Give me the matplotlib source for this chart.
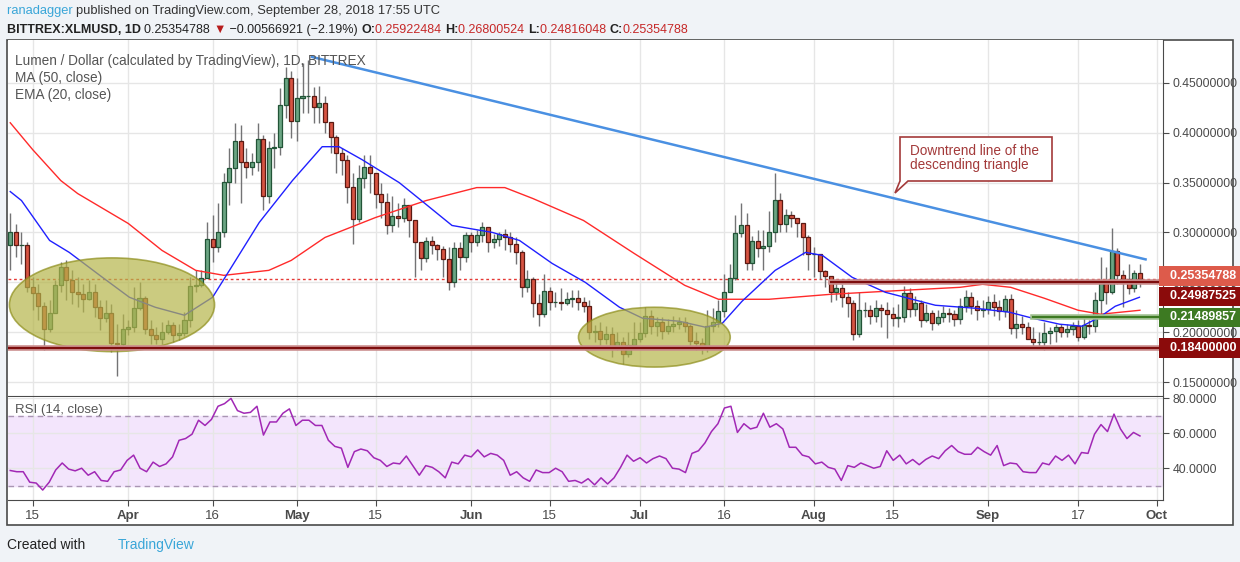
import matplotlib
matplotlib.use("Agg")
import matplotlib.pyplot as plt
import numpy as np
from matplotlib.patches import Ellipse, Rectangle, Polygon
from matplotlib.transforms import blended_transform_factory

plt.rcParams['font.family'] = ['Liberation Sans', 'DejaVu Sans']

# daily closes from Mar 11 to Sep 28, 2018 (XLM/USD, Bittrex)
closes = [0.300,0.287,0.287,0.245,0.239,0.226,0.203,0.219,0.247,0.265,
          0.252,0.240,0.238,0.233,0.240,0.225,0.214,0.219,0.189,0.188,
          0.203,0.205,0.224,0.234,0.203,0.197,0.193,0.200,0.207,0.197,
          0.199,0.212,0.246,0.247,0.254,0.293,0.285,0.300,0.351,0.365,
          0.392,0.371,0.366,0.371,0.394,0.337,0.385,0.386,0.428,0.455,
          0.412,0.435,0.437,0.437,0.426,0.430,0.411,0.396,0.380,0.373,
          0.346,0.313,0.355,0.366,0.360,0.339,0.331,0.307,0.317,0.314,
          0.328,0.312,0.290,0.274,0.291,0.287,0.283,0.273,0.250,0.284,
          0.275,0.297,0.290,0.297,0.305,0.290,0.293,0.298,0.295,0.288,
          0.280,0.245,0.253,0.229,0.218,0.241,0.230,0.230,0.229,0.233,
          0.234,0.230,0.226,0.200,0.201,0.193,0.198,0.184,0.190,0.178,
          0.187,0.193,0.199,0.216,0.206,0.210,0.201,0.206,0.208,0.210,
          0.206,0.191,0.189,0.184,0.206,0.210,0.221,0.240,0.254,0.299,
          0.307,0.269,0.291,0.284,0.286,0.300,0.333,0.308,0.318,0.315,
          0.309,0.295,0.278,0.278,0.261,0.256,0.240,0.244,0.235,0.229,
          0.198,0.222,0.222,0.216,0.224,0.222,0.218,0.214,0.215,0.239,
          0.223,0.229,0.212,0.219,0.209,0.215,0.219,0.218,0.213,0.226,
          0.235,0.226,0.222,0.223,0.230,0.225,0.221,0.233,0.204,0.208,
          0.205,0.193,0.190,0.190,0.199,0.201,0.205,0.200,0.203,0.206,
          0.195,0.207,0.206,0.232,0.249,0.240,0.281,0.257,0.253,0.244,
          0.2592,0.2535]
first_open = 0.287

highs = [0.320,0.308,0.300,0.290,0.255,0.248,0.230,0.232,0.252,0.270,
         0.272,0.262,0.255,0.248,0.252,0.248,0.232,0.232,0.228,0.208,
         0.218,0.212,0.245,0.250,0.236,0.212,0.205,0.210,0.212,0.210,
         0.208,0.220,0.255,0.262,0.262,0.310,0.318,0.330,0.360,0.385,
         0.410,0.408,0.385,0.380,0.410,0.398,0.392,0.400,0.445,0.466,
         0.462,0.455,0.470,0.473,0.446,0.447,0.437,0.410,0.398,0.385,
         0.378,0.360,0.368,0.378,0.378,0.360,0.350,0.340,0.337,0.330,
         0.335,0.328,0.305,0.290,0.295,0.296,0.288,0.286,0.285,0.290,
         0.290,0.300,0.300,0.302,0.310,0.305,0.298,0.300,0.303,0.300,
         0.295,0.282,0.262,0.255,0.238,0.258,0.245,0.240,0.244,0.240,
         0.242,0.242,0.235,0.232,0.207,0.210,0.206,0.205,0.200,0.195,
         0.200,0.210,0.210,0.225,0.222,0.215,0.215,0.213,0.216,0.215,
         0.215,0.208,0.200,0.194,0.222,0.224,0.232,0.258,0.268,0.318,
         0.330,0.320,0.296,0.302,0.302,0.322,0.360,0.340,0.324,0.322,
         0.315,0.305,0.297,0.285,0.268,0.262,0.254,0.252,0.248,0.240,
         0.232,0.240,0.230,0.227,0.232,0.228,0.230,0.225,0.228,0.246,
         0.244,0.236,0.232,0.228,0.222,0.222,0.226,0.224,0.222,0.234,
         0.242,0.240,0.232,0.232,0.236,0.238,0.232,0.237,0.238,0.222,
         0.216,0.210,0.205,0.200,0.210,0.205,0.208,0.208,0.208,0.210,
         0.212,0.214,0.212,0.240,0.275,0.265,0.304,0.284,0.262,0.268,
         0.262,0.268]

lows = [0.262,0.275,0.268,0.240,0.222,0.212,0.182,0.200,0.235,0.240,
        0.232,0.228,0.225,0.220,0.232,0.215,0.202,0.210,0.180,0.156,
        0.185,0.197,0.200,0.222,0.198,0.188,0.188,0.188,0.198,0.190,
        0.192,0.196,0.205,0.240,0.245,0.255,0.270,0.280,0.295,0.328,
        0.350,0.330,0.355,0.358,0.362,0.323,0.330,0.365,0.378,0.415,
        0.395,0.392,0.420,0.420,0.410,0.410,0.400,0.380,0.360,0.358,
        0.330,0.288,0.310,0.345,0.340,0.325,0.315,0.298,0.300,0.305,
        0.310,0.295,0.255,0.262,0.270,0.278,0.272,0.255,0.242,0.245,
        0.262,0.270,0.280,0.286,0.290,0.280,0.284,0.286,0.282,0.280,
        0.268,0.235,0.240,0.215,0.206,0.215,0.222,0.225,0.222,0.227,
        0.225,0.222,0.220,0.193,0.190,0.183,0.188,0.175,0.182,0.168,
        0.175,0.183,0.190,0.195,0.198,0.196,0.193,0.198,0.200,0.203,
        0.200,0.186,0.182,0.178,0.180,0.200,0.205,0.215,0.240,0.252,
        0.295,0.262,0.262,0.275,0.262,0.280,0.290,0.300,0.300,0.305,
        0.295,0.277,0.262,0.255,0.253,0.245,0.230,0.232,0.225,0.215,
        0.192,0.195,0.215,0.208,0.210,0.205,0.194,0.206,0.205,0.210,
        0.215,0.216,0.205,0.210,0.202,0.207,0.210,0.210,0.206,0.208,
        0.220,0.218,0.212,0.215,0.218,0.216,0.212,0.215,0.198,0.194,
        0.198,0.196,0.186,0.183,0.182,0.188,0.190,0.195,0.195,0.197,
        0.191,0.193,0.198,0.200,0.218,0.228,0.238,0.248,0.225,0.238,
        0.240,0.245]

# moving averages (day index, value)
ma50_day = [0, 4, 9, 12, 21, 27, 33, 38, 46, 50, 56, 65, 74, 83, 88, 93, 102, 111,
            120, 126, 135, 146, 159, 169, 173, 178, 184, 190, 194, 201]
ma50_val = [0.410, 0.383, 0.352, 0.339, 0.309, 0.282, 0.262, 0.257, 0.262, 0.272,
            0.295, 0.315, 0.332, 0.345, 0.345, 0.334, 0.312, 0.279, 0.247, 0.233,
            0.233, 0.238, 0.242, 0.245, 0.248, 0.245, 0.234, 0.222, 0.218, 0.222]
ema20_day = [0, 2, 7, 10.5, 16.4, 21.2, 25.8, 31, 36, 39, 44.3, 50.2, 55.5, 58.5, 62.6,
             69.2, 73.8, 78.6, 85.8, 90.6, 96.4, 102.3, 108.4, 112.5, 119, 123.7, 126.7,
             130.2, 136.1, 141.5, 144.5, 149.8, 155.7, 164.6, 171.7, 177.8, 181.9,
             186.7, 190.7, 193.8, 196.6, 200.9]
ema20_val = [0.341, 0.332, 0.292, 0.280, 0.255, 0.235, 0.225, 0.217, 0.235, 0.262,
             0.310, 0.352, 0.386, 0.386, 0.373, 0.350, 0.329, 0.307, 0.300, 0.292,
             0.269, 0.250, 0.225, 0.214, 0.211, 0.205, 0.209, 0.231, 0.262, 0.280,
             0.277, 0.255, 0.240, 0.227, 0.224, 0.220, 0.214, 0.208, 0.206, 0.215,
             0.226, 0.235]

rsi = [38.7, 38, 38, 32, 31.5, 27.5, 32, 39, 43, 39.5, 38.5, 40, 36, 38, 33, 32.5, 38, 39,
       44.5, 47.5, 40, 38, 43.5, 41, 42.5, 46.5, 56, 57, 59.5, 67.5, 64.5, 68, 75.5, 77, 80,
       73, 71.5, 72, 75.5, 59, 66.5, 66.5, 71.5, 74, 64.5, 67.5, 67.5, 64.5, 64.5, 56, 52.5,
       51.5, 40.5, 49.5, 51, 50, 46, 44.5, 41, 43, 42.5, 47, 41.5, 36, 41.5, 40.5, 38, 34.5,
       43.5, 42.5, 47.5, 46.5, 50.5, 46.5, 48.5, 47.5, 44.5, 36, 38, 34.5, 32.5, 39, 37.5,
       37.5, 40, 38, 32.5, 33, 31.5, 34, 30.5, 34.5, 31, 34.5, 40.5, 47.5, 44, 46, 43, 45.5,
       47, 45.5, 40, 39.5, 37.5, 48.5, 50, 54.5, 61, 65.5, 74.5, 75.5, 60.5, 65.5, 62.5, 63.5,
       71.5, 63.5, 65.5, 62.5, 52, 52, 47.5, 46.5, 42.5, 43.5, 40.5, 39.5, 33, 41.5, 40.5, 43,
       41.5, 40, 41, 50, 44.5, 47.5, 42.5, 45, 42, 45, 47, 45.5, 50, 53, 49.5, 48, 48, 52,
       49.5, 47.5, 53, 41.5, 43, 42.5, 38, 37.5, 37.5, 43, 42, 47, 44.5, 47.5, 42.5, 49,
       48.5, 59.5, 65, 61, 71, 62.5, 57, 60.5, 58.5]

price_ticks = [0.15, 0.20, 0.25, 0.30, 0.35, 0.40, 0.45]
date_ticks = [4, 21, 36, 51, 65, 82, 96, 112, 127, 143, 157, 174, 190, 204]
date_labels = ["15", "Apr", "16", "May", "15", "Jun", "15", "Jul", "16", "Aug", "15", "Sep", "17", "Oct"]
month_labels = ["Apr", "May", "Jun", "Jul", "Aug", "Sep", "Oct"]

support = 0.184
resistance = 0.24987525
mid_level = 0.21489857
last_price = 0.25354788
trend_days = [53.7, 202]
trend_vals = [0.476, 0.273]

W, H = 1240, 562
fig = plt.figure(figsize=(W / 100, H / 100), dpi=100)
fig.patch.set_facecolor("#f0f3f7")

def fx(px):
    return px / W

def fy(py):
    return 1 - py / H

ax = fig.add_axes([fx(8), fy(396), fx(1163 - 8), (396 - 40) / H])
ax2 = fig.add_axes([fx(8), fy(500), fx(1163 - 8), (500 - 397) / H])

# outer frame
fig.patches.append(Rectangle((fx(7), fy(525)), fx(1233 - 7), (525 - 40) / H,
                             transform=fig.transFigure, fill=True, facecolor="white",
                             edgecolor="#4a4a4a", lw=1.2, zorder=-5))

grid_c = "#e6e6e6"
for a in (ax, ax2):
    a.set_facecolor("white")
    a.set_xlim(-0.4, 205.1)
    a.set_xticks(date_ticks)
    a.grid(True, color=grid_c, lw=1)
    a.set_axisbelow(True)
    a.yaxis.tick_right()
    a.tick_params(axis="y", length=4, colors="#4a4a4a", labelsize=8.8, pad=3)
    for s in a.spines.values():
        s.set_color("#4a4a4a")
    a.spines["top"].set_visible(False)

ax.spines["left"].set_visible(False)
ax2.spines["left"].set_visible(False)
ax.tick_params(axis="x", length=0, labelbottom=False)
ax2.tick_params(axis="x", length=4, colors="#4a4a4a", labelsize=9.5)
ax2.set_xticklabels(date_labels)
for lab in ax2.get_xticklabels():
    lab.set_color("#4a4a4a")
    if lab.get_text() in month_labels:
        lab.set_fontweight("bold")

ax.set_ylim(0.136, 0.493)
ax.set_yticks(price_ticks)
ax.set_yticklabels(["%.8f" % v for v in price_ticks])

# candles
c = np.array(closes)
o = np.concatenate([[first_open], c[:-1]])
hi = np.maximum(np.array(highs), np.maximum(o, c))
lo = np.minimum(np.array(lows), np.minimum(o, c))
days = np.arange(len(c))
up = c >= o
ax.vlines(days, lo, hi, color="#737375", lw=1, zorder=3)
ax.bar(days[up], c[up] - o[up], bottom=o[up], width=0.72,
       color="#6ba583", edgecolor="#225437", lw=0.9, zorder=4)
ax.bar(days[~up], o[~up] - c[~up], bottom=c[~up], width=0.72,
       color="#d75442", edgecolor="#5b1a13", lw=0.9, zorder=4)

ax.plot(ma50_day, ma50_val, color="#ff2a2a", lw=1, zorder=5)
ax.plot(ema20_day, ema20_val, color="#2020ff", lw=1, zorder=5)

# ellipses
ax.add_patch(Ellipse((18.1, 0.2275), 36.5, 0.094, facecolor="#b5b54a", alpha=0.7,
                     edgecolor="#8d8d1a", lw=1.2, zorder=6))
ax.add_patch(Ellipse((114.6, 0.195), 27, 0.060, facecolor="#b5b54a", alpha=0.7,
                     edgecolor="#8d8d1a", lw=1.2, zorder=6))

# levels
ax.axhline(last_price, color="#e53935", ls=(0, (2, 2)), lw=1, zorder=2)
ax.axhline(support, color="#c98a8a", lw=4, zorder=6)
ax.axhline(support, color="#7d0d0d", lw=1.5, zorder=6)
ax.plot([146, 205.1], [resistance] * 2, color="#c98a8a", lw=4, zorder=6)
ax.plot([146, 205.1], [resistance] * 2, color="#7d0d0d", lw=1.5, zorder=6)
ax.plot([182, 205.1], [mid_level] * 2, color="#9fbf8f", lw=4, zorder=6)
ax.plot([182, 205.1], [mid_level] * 2, color="#3d7a22", lw=1.5, zorder=6)
ax.plot(trend_days, trend_vals, color="#4a90e2", lw=1.8, zorder=7)

# right-hand price boxes (labels pushed apart as on the chart)
tr = blended_transform_factory(ax.transAxes, ax.transData)
for val, ypos, col in [(last_price, last_price + 0.0030, "#dd5b4b"),
                       (resistance, resistance - 0.0140, "#8b0b0b"),
                       (mid_level, mid_level, "#3d7a22"),
                       (support, support, "#8b0b0b")]:
    ax.text(1.0, ypos, "  %.8f " % val, transform=tr, ha="left", va="center",
            color="white", fontsize=9, fontweight="bold", zorder=10, clip_on=False,
            bbox=dict(boxstyle="square,pad=0.3", facecolor=col, edgecolor="none"))

# callout
pts = [[900, 137], [1052, 137], [1052, 181], [908, 181], [895, 193], [900, 181]]
verts = [[fx(x), fy(y)] for x, y in pts]
fig.patches.append(Polygon(verts, closed=True, transform=fig.transFigure,
                           facecolor="white", edgecolor="#a33a3a", lw=1.2, zorder=20))
fig.text(fx(910), fy(158), "Downtrend line of the\ndescending triangle", color="#a33a3a",
         fontsize=9.8, va="center", ha="left", zorder=21, linespacing=1.0)

# RSI panel
ax2.set_ylim(21.8, 80.8)
ax2.set_yticks([40, 60, 80])
ax2.set_yticklabels(["40.0000", "60.0000", "80.0000"])
ax2.axhspan(30, 70, color="#f3e5fc", zorder=0)
ax2.axhline(70, color="#a995b3", ls=(0, (4, 3)), lw=1)
ax2.axhline(30, color="#a995b3", ls=(0, (4, 3)), lw=1)
ax2.plot(np.linspace(0, 201, len(rsi)), rsi, color="#a128b5", lw=1.1, zorder=3)
ax2.text(0.006, 0.87, "RSI (14, close)", transform=ax2.transAxes, color="#555555",
         fontsize=9.5, va="center")

# legend texts
for i, t in enumerate(["Lumen / Dollar (calculated by TradingView), 1D, BITTREX",
                       "MA (50, close)", "EMA (20, close)"]):
    fig.text(fx(15), fy(61 + 17 * i), t, color="#555555", fontsize=9.8, va="center")

# header
fig.canvas.draw()
rend = fig.canvas.get_renderer()

def run_text(parts, ypix, size):
    xpos = fx(7)
    for txt, col, wt in parts:
        tt = fig.text(xpos, fy(ypix), txt, color=col, fontsize=size, fontweight=wt, va="center")
        xpos += tt.get_window_extent(renderer=rend).width / W

run_text([("ranadagger ", "#3aa6d8", "normal"),
          ("published on TradingView.com, September 28, 2018 17:55 UTC", "#333333", "normal")],
         11, 9.3)
run_text([("BITTREX:XLMUSD, 1D ", "#222222", "bold"), ("0.25354788 ", "#222222", "normal"),
          ("\u25bc", "#b71c1c", "normal"), (" \u22120.00566921 (\u22122.19%) ", "#222222", "normal"),
          ("O:", "#222222", "bold"), ("0.25922484 ", "#c62828", "normal"),
          ("H:", "#222222", "bold"), ("0.26800524 ", "#c62828", "normal"),
          ("L:", "#222222", "bold"), ("0.24816048 ", "#c62828", "normal"),
          ("C:", "#222222", "bold"), ("0.25354788", "#c62828", "normal")], 30, 9.0)

fig.text(fx(7), fy(545), "Created with", color="#222222", fontsize=10, va="center")
fig.text(fx(118), fy(545), "TradingView", color="#3aa6d8", fontsize=10, va="center")

fig.savefig("out.png", dpi=100, facecolor=fig.get_facecolor())
